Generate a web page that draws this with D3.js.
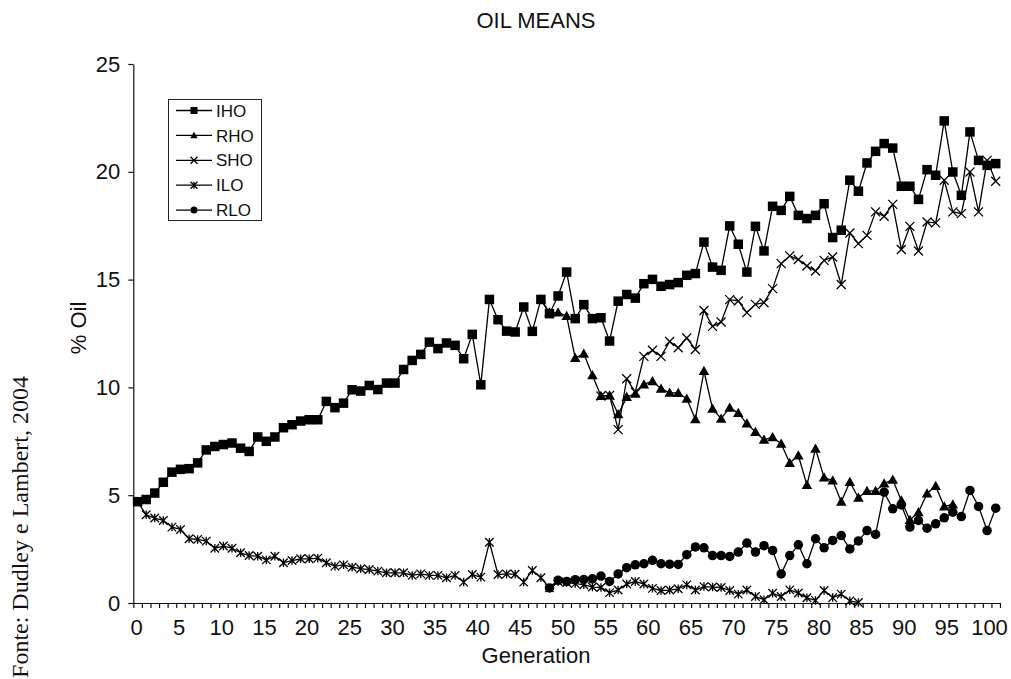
<!DOCTYPE html>
<html>
<head>
<meta charset="utf-8">
<script src="https://cdn.jsdelivr.net/npm/d3@7"></script>
<style>
  body { margin: 0; background: #fff; }
  svg { display: block; }
  text { font-family: "Liberation Sans", Arial, sans-serif; fill: #111; }
</style>
</head>
<body>
<div id="container"></div>
<script>
// chart data (% oil per generation)
const generations = d3.range(0, 101);
const xLabels = [0, 5, 10, 15, 20, 25, 30, 35, 40, 45, 50, 55, 60, 65, 70, 75, 80, 85, 90, 95, 100];
const yTicks = [0, 5, 10, 15, 20, 25];

const iho = [
  4.7, 4.8, 5.1, 5.6, 6.07, 6.2, 6.23, 6.5, 7.1, 7.26,
  7.35, 7.42, 7.18, 7.03, 7.7, 7.5, 7.7, 8.13, 8.27, 8.44,
  8.5, 8.5, 9.35, 9.06, 9.27, 9.89, 9.83, 10.09, 9.9, 10.2,
  10.2, 10.83, 11.25, 11.53, 12.1, 11.8, 12.06, 11.95, 11.33, 12.46,
  10.12, 14.08, 13.14, 12.61, 12.57, 13.73, 12.6, 14.08, 13.42, 14.24,
  15.35, 13.19, 13.84, 13.19, 13.23, 12.15, 14.0, 14.31, 14.14, 14.81,
  15.01, 14.69, 14.77, 14.86, 15.2, 15.28, 16.74, 15.58, 15.43, 17.49,
  16.64, 15.35, 17.47, 16.33, 18.4, 18.21, 18.86, 17.98, 17.83, 17.98,
  18.52, 16.95, 17.29, 19.61, 19.1, 20.41, 20.95, 21.31, 21.1, 19.33,
  19.33, 18.72, 20.1, 19.84, 22.36, 19.99, 18.91, 21.85, 20.53, 20.3,
  20.38
];

// RHO follows IHO until it splits off
const rhoStart = 47;
const rho = [
  14.08, 13.47, 13.47, 13.31, 11.36, 11.56, 10.56, 9.6, 9.63, 8.75,
  9.55, 9.71, 10.14, 10.29, 9.94, 9.75, 9.74, 9.47, 8.52, 10.76,
  9.01, 8.55, 9.06, 8.81, 8.32, 7.93, 7.57, 7.69, 7.39, 6.49,
  6.84, 5.47, 7.15, 5.82, 5.68, 4.7, 5.61, 4.88, 5.2, 5.2,
  5.54, 5.72, 4.75, 3.85, 4.21, 5.08, 5.43, 4.48, 4.57
];

// SHO follows RHO until it splits off
const shoStart = 54;
const sho = [
  9.6, 9.63, 8.04, 10.4, 9.78, 11.44, 11.72, 11.44, 12.13, 11.84,
  12.29, 11.76, 13.57, 12.83, 13.03, 14.07, 14.01, 13.47, 13.85, 13.93,
  14.58, 15.74, 16.1, 15.93, 15.63, 15.4, 15.89, 16.05, 14.77, 17.16,
  16.67, 17.05, 18.14, 17.94, 18.49, 16.4, 17.47, 16.33, 17.67, 17.63,
  19.61, 18.14, 18.06, 19.99, 18.14, 20.53, 19.56
];

const iloStart = 0;
const ilo = [
  4.7, 4.09, 3.94, 3.83, 3.52, 3.41, 2.98, 2.95, 2.87, 2.54,
  2.64, 2.54, 2.33, 2.2, 2.17, 2.0, 2.17, 1.87, 1.97, 2.05,
  2.05, 2.08, 1.87, 1.71, 1.77, 1.66, 1.59, 1.55, 1.48, 1.4,
  1.4, 1.4, 1.28, 1.35, 1.28, 1.28, 1.17, 1.28, 0.97, 1.32,
  1.2, 2.82, 1.32, 1.35, 1.33, 0.97, 1.51, 1.17, 0.7, 1.0,
  0.95, 0.9, 0.85, 0.74, 0.72, 0.48, 0.6, 0.88, 1.0, 0.88,
  0.68, 0.58, 0.6, 0.66, 0.84, 0.6, 0.76, 0.74, 0.72, 0.58,
  0.41, 0.6, 0.3, 0.15, 0.45, 0.3, 0.61, 0.46, 0.24, 0.12,
  0.58, 0.25, 0.41, 0.1, 0.02
];

// RLO follows ILO until it splits off
const rloStart = 48;
const rlo = [
  0.7, 1.05, 1.0, 1.08, 1.09, 1.12, 1.25, 1.0, 1.35, 1.64,
  1.77, 1.82, 1.98, 1.82, 1.8, 1.79, 2.24, 2.6, 2.56, 2.2,
  2.2, 2.16, 2.36, 2.78, 2.36, 2.66, 2.44, 1.35, 2.2, 2.7,
  1.82, 2.98, 2.56, 2.9, 3.13, 2.51, 2.88, 3.36, 3.18, 5.14,
  4.37, 4.55, 3.52, 3.83, 3.47, 3.67, 3.95, 4.21, 4.01, 5.22,
  4.48, 3.36, 4.4
];

const seriesNames = ["IHO", "RHO", "SHO", "ILO", "RLO"];
const seriesMarkers = ["square", "triangle", "cross", "star", "circle"];

const width = 1011;
const height = 679;

function toPoints(values, start) {
  return values.map((v, i) => ({ gen: generations[start + i], value: v }));
}

const series = [
  { name: seriesNames[0], marker: seriesMarkers[0], points: toPoints(iho, 0) },
  { name: seriesNames[1], marker: seriesMarkers[1], points: toPoints(rho, rhoStart) },
  { name: seriesNames[2], marker: seriesMarkers[2], points: toPoints(sho, shoStart) },
  { name: seriesNames[3], marker: seriesMarkers[3], points: toPoints(ilo, iloStart) },
  { name: seriesNames[4], marker: seriesMarkers[4], points: toPoints(rlo, rloStart) }
];

const svg = d3.select("#container").append("svg")
  .attr("width", width)
  .attr("height", height);

// category axis: points sit in the middle of each slot
const x = d3.scaleLinear().domain([-0.5, 100.5]).range([133.3, 1000]);
const y = d3.scaleLinear().domain([0, 25]).range([603, 64]);
// the printed tick labels sit a touch left of the points
const xText = d3.scaleLinear().domain([0, 100]).range([136, 989]);

// marker drawing, size = full width in px
function drawMarker(g, type, size) {
  const h = size / 2;
  if (type == "square") {
    g.append("rect").attr("x", -h).attr("y", -h).attr("width", size).attr("height", size)
      .attr("fill", "#000");
  } else if (type == "triangle") {
    g.append("path").attr("d", `M0,${-h * 1.05}L${h * 1.05},${h * 0.8}L${-h * 1.05},${h * 0.8}Z`)
      .attr("fill", "#000");
  } else if (type == "cross") {
    g.append("path").attr("d", `M${-h},${-h}L${h},${h}M${-h},${h}L${h},${-h}`)
      .attr("stroke", "#000").attr("stroke-width", 1.3).attr("fill", "none");
  } else if (type == "star") {
    g.append("path").attr("d", `M${-h},${-h}L${h},${h}M${-h},${h}L${h},${-h}M0,${-h}L0,${h}`)
      .attr("stroke", "#000").attr("stroke-width", 1.3).attr("fill", "none");
  } else {
    g.append("circle").attr("r", h).attr("fill", "#000");
  }
}

const markerSize = { square: 9.5, triangle: 10, cross: 9, star: 8.5, circle: 9.5 };

// axes
svg.append("g")
  .attr("transform", `translate(${x(-0.5)},0)`)
  .call(d3.axisLeft(y).tickValues(yTicks).tickSize(5).tickSizeOuter(0).tickPadding(8));

svg.append("g")
  .attr("transform", `translate(0,${y(0)})`)
  .call(d3.axisBottom(x).tickValues(d3.range(-0.5, 101, 1)).tickSize(5).tickSizeOuter(0).tickFormat(""));

const xLabelAxis = svg.append("g")
  .attr("transform", `translate(0,${y(0)})`)
  .call(d3.axisBottom(xText).tickValues(xLabels).tickSize(0).tickPadding(16));
xLabelAxis.select(".domain").remove();

svg.selectAll(".domain, .tick line").attr("stroke", "#111").attr("stroke-width", 1.2);
svg.selectAll(".tick text").attr("font-size", 22).attr("font-family", "'Liberation Sans', Arial, sans-serif").attr("fill", "#111");

// series lines + markers, drawn in legend order like the original
const line = d3.line().x(d => x(d.gen)).y(d => y(d.value));

series.forEach(s => {
  svg.append("path")
    .datum(s.points)
    .attr("fill", "none")
    .attr("stroke", "#000")
    .attr("stroke-width", 1.3)
    .attr("stroke-linejoin", "round")
    .attr("d", line);

  svg.append("g")
    .selectAll("g")
    .data(s.points)
    .join("g")
    .attr("transform", d => `translate(${x(d.gen)},${y(d.value)})`)
    .each(function () { drawMarker(d3.select(this), s.marker, markerSize[s.marker]); });
});

// titles
svg.append("text")
  .attr("x", 536).attr("y", 28)
  .attr("text-anchor", "middle").attr("font-size", 22)
  .text("OIL MEANS");

svg.append("text")
  .attr("x", 536).attr("y", 663)
  .attr("text-anchor", "middle").attr("font-size", 22)
  .text("Generation");

svg.append("text")
  .attr("transform", "translate(86,328) rotate(-90)")
  .attr("text-anchor", "middle").attr("font-size", 22)
  .text("% Oil");

svg.append("text")
  .attr("transform", "translate(28,527) rotate(-90)")
  .attr("text-anchor", "middle").attr("font-size", 24)
  .style("font-family", "'Liberation Serif', 'Times New Roman', serif")
  .text("Fonte: Dudley e Lambert, 2004");

// legend
const legend = svg.append("g");
legend.append("rect")
  .attr("x", 168.5).attr("y", 99.5).attr("width", 93).attr("height", 121)
  .attr("fill", "#fff").attr("stroke", "#222").attr("stroke-width", 1);

const legendRows = legend.selectAll("g.row")
  .data(series)
  .join("g")
  .attr("class", "row")
  .attr("transform", (d, i) => `translate(0,${110.5 + i * 24.9})`);

legendRows.append("line")
  .attr("x1", 176).attr("x2", 212).attr("y1", 0).attr("y2", 0)
  .attr("stroke", "#000").attr("stroke-width", 1.3);

legendRows.each(function (d) {
  const m = d3.select(this).append("g").attr("transform", "translate(194,0)");
  drawMarker(m, d.marker, 7);
});

legendRows.append("text")
  .attr("x", 216).attr("y", 0)
  .attr("dy", "0.36em")
  .attr("font-size", 17)
  .text(d => d.name);
</script>
</body>
</html>
